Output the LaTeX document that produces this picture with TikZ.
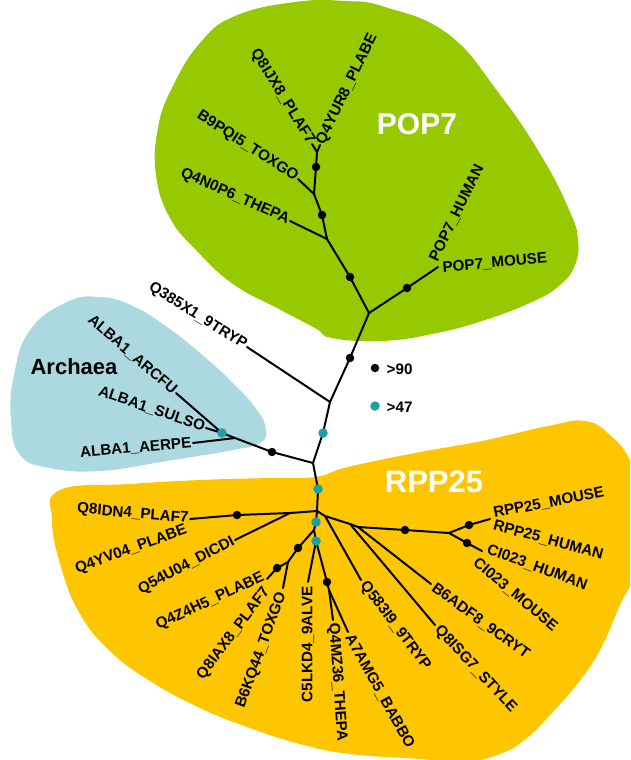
\documentclass[tikz,border=0pt]{standalone}
\usepackage{fontspec}
\setmainfont{Liberation Sans}
\definecolor{popg}{RGB}{150,201,0}
\definecolor{archb}{RGB}{172,216,224}
\definecolor{rppy}{RGB}{254,198,0}
\definecolor{tealdot}{RGB}{26,160,165}
\begin{document}
\begin{tikzpicture}[x=1pt,y=-1pt,
  br/.style={line width=2pt, line cap=round, line join=round},
  bdot/.style={circle, fill=black, inner sep=0pt, minimum size=8.5pt},
  cdot/.style={circle, fill=tealdot, inner sep=0pt, minimum size=9.5pt},
  lab/.style={font=\bfseries\fontsize{15.2}{17}\selectfont, inner sep=1.5pt},
  big/.style={font=\bfseries\fontsize{30}{32}\selectfont, text=white}]
\clip (0,0) rectangle (630,760);
% clade areas
\fill[popg] plot[smooth cycle, tension=0.75] coordinates {(235,16) (295,2) (345,1) (385,7) (448,34) (498,92) (542,157) (570,212) (578,240) (575,265) (560,285) (532,302) (482,321) (432,334) (382,341) (332,338) (315,328) (277,308) (233,284) (197,251) (170,218) (156,175) (158,128) (172,88) (200,43)};
\fill[archb] plot[smooth cycle, tension=0.75] coordinates {(67,302) (100,297) (133,306) (167,327) (200,353) (233,383) (257,410) (266,430) (260,443) (233,450) (167,461) (100,471) (50,468) (20,455) (11,420) (14,375) (30,330)};
\fill[rppy] plot[smooth cycle, tension=0.75] coordinates {(60,490) (130,484) (200,480) (270,478) (315,477) (348,467) (415,453) (482,441) (548,426) (585,421) (610,435) (630,460) (642,495) (640,560) (620,605) (600,650) (578,683) (550,715) (527,738) (500,754) (460,763) (420,759) (350,754) (300,744) (250,728) (200,708) (150,681) (110,651) (80,614) (61,567) (52,520)};
% tree points
\coordinate (t1) at (312,144); \coordinate (t2) at (320,145); \coordinate (p0) at (317,152);
\coordinate (d1) at (316,167); \coordinate (p1) at (314,194); \coordinate (tB9) at (298,179);
\coordinate (d2) at (322,215); \coordinate (p2) at (327,239); \coordinate (tQ4N) at (290,221);
\coordinate (d3) at (350,277); \coordinate (J1) at (369,313); \coordinate (d4) at (407,288);
\coordinate (tPOP) at (438,267); \coordinate (d5) at (350,358); \coordinate (J2) at (330,402);
\coordinate (tQ385) at (247,347); \coordinate (c1) at (323,433); \coordinate (J3) at (313,463);
\coordinate (d6) at (272,452); \coordinate (J4) at (235,438); \coordinate (tAER) at (193,443);
\coordinate (c2) at (222,433); \coordinate (tSUL) at (206,428); \coordinate (tARC) at (176,393);
\coordinate (c3) at (318,489); \coordinate (R) at (317,511); \coordinate (L1) at (290,513);
\coordinate (d7) at (237,515); \coordinate (tQ8ID) at (190,519); \coordinate (tQ54) at (235,540);
\coordinate (c4) at (316,522); \coordinate (J5) at (314,530); \coordinate (d8) at (298,548);
\coordinate (J6) at (288,562); \coordinate (d9) at (277,568); \coordinate (tQ4Z) at (267,579);
\coordinate (tB6K) at (283,588); \coordinate (c5) at (316,541); \coordinate (tC5L) at (308,582);
\coordinate (d10) at (327,582); \coordinate (J7) at (329,590); \coordinate (tQ4M) at (333,620);
\coordinate (tA7A) at (348,632); \coordinate (R1) at (325,516); \coordinate (tQ583) at (361,580);
\coordinate (R2) at (350,524); \coordinate (tQ8IS) at (435,625); \coordinate (R3) at (358,527);
\coordinate (tB6A) at (431,584); \coordinate (d11) at (405,530); \coordinate (J8) at (449,533);
\coordinate (d12) at (469,525); \coordinate (tRPP) at (490,519); \coordinate (d13) at (467,543);
\coordinate (tCI) at (482,551);
% label anchor points
\coordinate (aHUM) at (433,262); \coordinate (aMOU) at (441,268);
\coordinate (aQ4YV) at (188,529); \coordinate (aQ4Z) at (265,576); \coordinate (aQ8IA) at (268,588);
\coordinate (aB6K) at (283,591); \coordinate (aC5L) at (308,585); \coordinate (aQ4M) at (333,622);
\coordinate (aA7A) at (348,634); \coordinate (aQ583) at (362,582); \coordinate (aQ8IS) at (436,627);
\coordinate (aB6A) at (432,586); \coordinate (aCIH) at (486,549); \coordinate (aCIM) at (474,560);
\coordinate (aRH) at (492,525); \coordinate (aRM) at (492,514);
% branches
\draw[br] (t1) -- (p0) -- (t2);
\draw[br] (p0) -- (d1) -- (p1) -- (d2) -- (p2) -- (d3) -- (J1);
\draw[br] (tB9) -- (p1);
\draw[br] (tQ4N) -- (p2);
\draw[br] (J1) -- (d4) -- (tPOP);
\draw[br] (J1) -- (d5) -- (J2) -- (c1) -- (J3) -- (c3) -- (R);
\draw[br] (tQ385) -- (J2);
\draw[br] (J3) -- (d6) -- (J4) -- (c2) -- (tARC);
\draw[br] (tAER) -- (J4);
\draw[br] (c2) -- (tSUL);
\draw[br] (R) -- (L1) -- (d7) -- (tQ8ID);
\draw[br] (L1) -- (tQ54);
\draw[br] (R) -- (c4) -- (J5) -- (c5);
\draw[br] (J5) -- (d8) -- (J6) -- (d9) -- (tQ4Z);
\draw[br] (J6) -- (tB6K);
\draw[br] (c5) -- (tC5L);
\draw[br] (c5) -- (d10) -- (J7) -- (tQ4M);
\draw[br] (J7) -- (tA7A);
\draw[br] (R) -- (R1) -- (R2) -- (R3) -- (d11) -- (J8) -- (d12) -- (tRPP);
\draw[br] (R1) -- (tQ583);
\draw[br] (R2) -- (tQ8IS);
\draw[br] (R3) -- (tB6A);
\draw[br] (J8) -- (d13) -- (tCI);
% support dots
\foreach \p in {d1,d2,d3,d4,d5,d6,d7,d8,d9,d10,d11,d12,d13} \node[bdot] (n\p) at (\p) {};
\foreach \p in {c1,c2,c3,c4,c5} \node[cdot] (n\p) at (\p) {};
% leaf labels
\node[lab, anchor=east, rotate=-58] (lQ8IJX8) at (t1) {Q8IJX8\_PLAF7};
\node[lab, anchor=west, rotate=64] (lQ4YUR8) at (t2) {Q4YUR8\_PLABE};
\node[lab, anchor=east, rotate=-33] (lB9PQI5) at (tB9) {B9PQI5\_TOXGO};
\node[lab, anchor=east, rotate=-24] (lQ4N0P6) at (tQ4N) {Q4N0P6\_THEPA};
\node[lab, anchor=west, rotate=64] (lPOPH) at (aHUM) {POP7\_HUMAN};
\node[lab, anchor=west, rotate=5] (lPOPM) at (aMOU) {POP7\_MOUSE};
\node[lab, anchor=east, rotate=-32] (lQ385) at (tQ385) {Q385X1\_9TRYP};
\node[lab, anchor=east, rotate=-41] (lARC) at (tARC) {ALBA1\_ARCFU};
\node[lab, anchor=east, rotate=-19] (lSUL) at (tSUL) {ALBA1\_SULSO};
\node[lab, anchor=east, rotate=5] (lAER) at (tAER) {ALBA1\_AERPE};
\node[lab, anchor=east, rotate=-5] (lQ8ID) at (tQ8ID) {Q8IDN4\_PLAF7};
\node[lab, anchor=east, rotate=20] (lQ4YV) at (aQ4YV) {Q4YV04\_PLABE};
\node[lab, anchor=east, rotate=28] (lQ54) at (tQ54) {Q54U04\_DICDI};
\node[lab, anchor=east, rotate=25] (lQ4Z) at (aQ4Z) {Q4Z4H5\_PLABE};
\node[lab, anchor=east, rotate=53] (lQ8IA) at (aQ8IA) {Q8IAX8\_PLAF7};
\node[lab, anchor=east, rotate=70] (lB6K) at (aB6K) {B6KQ44\_TOXGO};
\node[lab, anchor=east, rotate=90] (lC5L) at (aC5L) {C5LKD4\_9ALVE};
\node[lab, anchor=west, rotate=-86] (lQ4M) at (aQ4M) {Q4MZ36\_THEPA};
\node[lab, anchor=west, rotate=-61] (lA7A) at (aA7A) {A7AMG5\_BABBO};
\node[lab, anchor=west, rotate=-53] (lQ583) at (aQ583) {Q583I9\_9TRYP};
\node[lab, anchor=west, rotate=-47] (lQ8IS) at (aQ8IS) {Q8ISG7\_STYLE};
\node[lab, anchor=west, rotate=-36] (lB6A) at (aB6A) {B6ADF8\_9CRYT};
\node[lab, anchor=west, rotate=-20] (lCIH) at (aCIH) {CI023\_HUMAN};
\node[lab, anchor=west, rotate=-40] (lCIM) at (aCIM) {CI023\_MOUSE};
\node[lab, anchor=west, rotate=-15] (lRH) at (aRH) {RPP25\_HUMAN};
\node[lab, anchor=west, rotate=11] (lRM) at (aRM) {RPP25\_MOUSE};
% clade names
\node[big] (pop7) at (417,124) {POP7};
\node[big, font=\bfseries\fontsize{31}{33}\selectfont] (rpp25) at (434,482) {RPP25};
\node[font=\bfseries\fontsize{22}{24}\selectfont] (arch) at (74,367) {Archaea};
% legend
\node[bdot] (lg1) at (375,368) {};
\node[lab, anchor=west] (lg1t) at (385,369) {>90};
\node[cdot] (lg2) at (375,406) {};
\node[lab, anchor=west] (lg2t) at (385,407) {>47};
\end{tikzpicture}
\end{document}
